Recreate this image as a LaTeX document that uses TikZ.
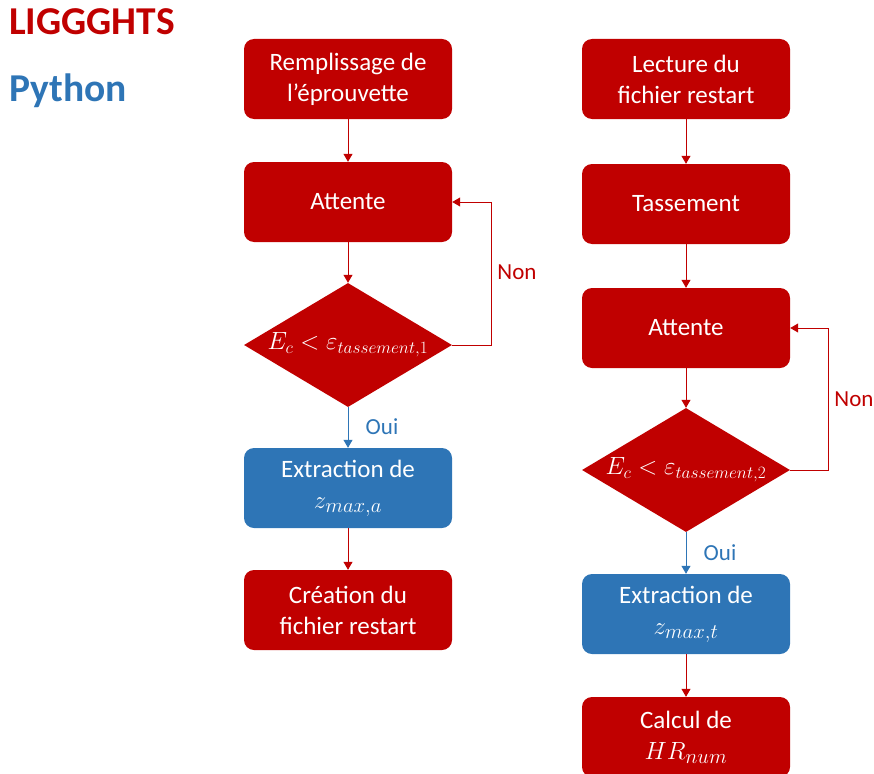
\documentclass[tikz,border=0pt]{standalone}
\usepackage{fontspec}
\setmainfont{Carlito}
\usetikzlibrary{shapes.geometric,arrows.meta}
\definecolor{rd}{HTML}{C00000}
\definecolor{bl}{HTML}{2E75B6}
\newcommand{\bmth}[1]{{\fontsize{28}{31}\selectfont$#1$}}
\begin{document}
\begin{tikzpicture}[x=1pt,y=-1pt,
  box/.style={rectangle, rounded corners=10pt, minimum width=208pt, minimum height=80pt, inner sep=0pt, align=center, text=white, font=\fontsize{25}{31}\selectfont, fill=rd},
  pybox/.style={box, fill=bl},
  dia/.style={diamond, minimum width=208pt, minimum height=124pt, inner sep=0pt, fill=rd},
  mtxt/.style={text=white, font=\fontsize{26.5}{31}\selectfont, inner sep=0pt},
  arr/.style={draw=rd, line width=1pt, -{Triangle[length=8pt,width=9pt]}},
  arrb/.style={draw=bl, line width=1pt, -{Triangle[length=8pt,width=9pt]}},
  lbl/.style={font=\fontsize{23}{28}\selectfont, inner sep=0pt},
  leg/.style={anchor=west, font=\fontsize{39.5}{44}\selectfont\bfseries, inner sep=0pt}
]
\useasboundingbox (0,0) rectangle (874,773);

\node[leg, text=rd] (lg) at (9,22) {LIGGGHTS};
\node[leg, text=bl] (py) at (9,91) {Python};

% left column
\node[box] (a1) at (348,79) {Remplissage de\\l’éprouvette};
\node[box] (a2) at (348,202) {Attente};
\node[dia] (ad) at (348,345) {};
\node[mtxt] at (ad) {$E_c<\varepsilon_{tassement,1}$};
\node[pybox] (a3) at (348,488) {Extraction de\\\bmth{z_{max,a}}};
\node[box] (a4) at (348,610) {Création du\\fichier restart};

\draw[arr] (a1) -- (a2);
\draw[arr] (a2) -- (ad);
\draw[arrb] (ad) -- (a3);
\draw[arr] (a3) -- (a4);
\draw[arr] (ad.east) -- ++(39,0) |- (a2.east);
\node[lbl, text=rd] (an) at (517,272) {Non};
\node[lbl, text=bl] (ao) at (382,427) {Oui};

% right column
\node[box] (b1) at (686,79) {Lecture du\\fichier restart};
\node[box] (b2) at (686,204) {Tassement};
\node[box] (b3) at (686,328) {Attente};
\node[dia] (bd) at (686,470) {};
\node[mtxt] at (bd) {$E_c<\varepsilon_{tassement,2}$};
\node[pybox] (b4) at (686,614) {Extraction de\\\bmth{z_{max,t}}};
\node[box] (b5) at (686,737) {Calcul de\\\bmth{HR_{num}}};

\draw[arr] (b1) -- (b2);
\draw[arr] (b2) -- (b3);
\draw[arr] (b3) -- (bd);
\draw[arrb] (bd) -- (b4);
\draw[arr] (b4) -- (b5);
\draw[arr] (bd.east) -- ++(38,0) |- (b3.east);
\node[lbl, text=rd] (bn) at (854,399) {Non};
\node[lbl, text=bl] (bo) at (720,553) {Oui};
\end{tikzpicture}
\end{document}
